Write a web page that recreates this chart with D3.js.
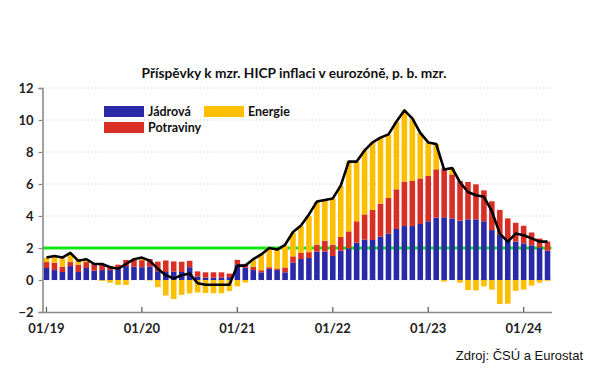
<!DOCTYPE html>
<html>
<head>
<meta charset="utf-8">
<script src="https://cdn.jsdelivr.net/npm/d3@7"></script>
<style>
  html, body { margin: 0; padding: 0; background: #fff; }
  svg { display: block; }
</style>
</head>
<body>
<svg id="chart" width="590" height="369"></svg>
<script>
// ---- DATA ----
const years = ["19", "20", "21", "22", "23", "24"];
const monthLabels = [];
years.forEach(yy => { for (let m = 1; m <= 12; m++) monthLabels.push(String(m).padStart(2, "0") + "/" + yy); });
const categories = monthLabels.slice(0, 64); // 01/19 .. 04/24

const core = [
  0.75,0.62,0.50,0.87,0.50,0.75,0.58,0.62,0.62,0.67,0.87,0.83,
  0.80,0.85,0.55,0.50,0.52,0.50,0.80,0.22,0.15,0.15,0.15,0.18,
  0.97,0.76,0.62,0.48,0.69,0.62,0.48,1.10,1.31,1.38,1.77,1.77,
  1.50,1.83,1.98,2.33,2.52,2.50,2.71,2.90,3.19,3.37,3.37,3.50,
  3.67,3.90,3.92,3.85,3.71,3.79,3.79,3.67,3.12,2.81,2.54,2.40,
  2.29,2.17,2.04,1.83
];
const food = [
  0.37,0.46,0.33,0.25,0.46,0.37,0.42,0.34,0.25,0.29,0.38,0.42,
  0.44,0.46,0.60,0.72,0.64,0.64,0.40,0.32,0.33,0.33,0.33,0.22,
  0.29,0.25,0.21,0.13,0.11,0.10,0.30,0.38,0.38,0.36,0.44,0.69,
  0.71,0.86,1.06,1.34,1.58,1.88,2.06,2.23,2.48,2.78,2.82,2.85,
  2.83,3.02,3.06,2.75,2.48,2.34,2.19,1.93,1.80,1.57,1.31,1.18,
  1.10,0.80,0.55,0.57
];
const energy = [
  0.26,0.35,0.51,0.51,0.37,0.09,0.05,-0.06,-0.17,-0.30,-0.31,0.05,
  0.19,-0.03,-0.45,-0.97,-1.19,-0.93,-0.84,-0.78,-0.82,-0.83,-0.83,-0.69,
  -0.40,-0.16,0.41,0.99,1.24,1.20,1.36,1.46,1.67,2.25,2.69,2.54,
  2.89,3.21,4.36,3.73,4.00,4.22,4.13,3.97,4.23,4.45,3.90,2.85,
  2.10,1.58,-0.10,0.40,-0.17,-0.63,-0.65,-0.40,-0.60,-1.50,-1.48,-0.68,
  -0.60,-0.35,-0.17,-0.05
];
const total = [
  1.4,1.5,1.4,1.7,1.2,1.3,1.0,1.0,0.8,0.7,1.0,1.3,
  1.4,1.2,0.7,0.3,0.1,0.3,0.4,-0.2,-0.3,-0.3,-0.3,-0.3,
  0.9,0.9,1.3,1.6,2.0,1.9,2.2,3.0,3.4,4.1,4.9,5.0,
  5.1,5.9,7.4,7.4,8.1,8.6,8.9,9.1,9.9,10.6,10.1,9.2,
  8.6,8.5,6.9,7.0,6.1,5.5,5.3,5.2,4.3,2.9,2.4,2.9,
  2.8,2.6,2.4,2.4
];
const seriesNames = ["Jádrová", "Potraviny", "Energie"];
const seriesColors = ["#2a2aa8", "#d92e24", "#ffbf00"];
const xTickLabels = ["01/19", "01/20", "01/21", "01/22", "01/23", "01/24"];
const yTicks = [-2, 0, 2, 4, 6, 8, 10, 12];
const targetLevel = 2;
const titleText = "Příspěvky k mzr. HICP inflaci v eurozóně, p. b. mzr.";
const sourceText = "Zdroj: ČSÚ a Eurostat";

// ---- CHART ----
(function () {
const svg = d3.select("#chart");
const plotLeft = 42.5, plotRight = 551.5, plotTop = 88, plotBottom = 312;

const x = d3.scaleBand().domain(categories).range([plotLeft, plotRight]).paddingInner(0.3).paddingOuter(0.15);
const y = d3.scaleLinear().domain([-2, 12]).range([plotBottom, plotTop]);
const cx = d => x(d) + x.bandwidth() / 2;

const rows = categories.map((c, i) => ({ cat: c, core: core[i], food: food[i], energy: energy[i] }));
const stack = d3.stack().keys(["core", "food", "energy"]).offset(d3.stackOffsetDiverging);
const layers = stack(rows);

// gridlines
svg.append("g").selectAll("line").data(yTicks.filter(t => t > -2)).join("line")
  .attr("x1", plotLeft).attr("x2", plotRight)
  .attr("y1", d => y(d)).attr("y2", d => y(d))
  .attr("stroke", "#c4c4c4").attr("stroke-width", 1)
  .attr("stroke-dasharray", "1,2.5");

// target line
svg.append("line")
  .attr("x1", plotLeft).attr("x2", plotRight)
  .attr("y1", y(targetLevel)).attr("y2", y(targetLevel))
  .attr("stroke", "#14e814").attr("stroke-width", 3);

// bars
svg.append("g").selectAll("g").data(layers).join("g")
  .attr("fill", (d, i) => seriesColors[i])
  .selectAll("rect").data(d => d).join("rect")
  .attr("x", d => x(d.data.cat))
  .attr("width", x.bandwidth())
  .attr("y", d => y(Math.max(d[0], d[1])))
  .attr("height", d => Math.abs(y(d[0]) - y(d[1])));

// axes
const yAxis = svg.append("g").attr("transform", `translate(${plotLeft},0)`)
  .call(d3.axisLeft(y).tickValues(yTicks).tickSize(4).tickPadding(5).tickFormat(d3.format("d")));
yAxis.select(".domain").attr("stroke", "#8a8a8a").attr("stroke-width", 1.6);
yAxis.selectAll(".tick line").attr("stroke", "#8a8a8a").attr("stroke-width", 1.2);
yAxis.selectAll(".tick text")
  .attr("font-family", "Lato, 'Open Sans', sans-serif").attr("font-weight", "bold")
  .attr("font-size", 13).attr("fill", "#222");

const xAxis = svg.append("g").attr("transform", `translate(0,${plotBottom})`)
  .call(d3.axisBottom(x).tickValues(categories.filter(c => xTickLabels.includes(c))).tickSize(-5).tickPadding(12).tickSizeOuter(0));
xAxis.select(".domain").attr("stroke", "#8a8a8a").attr("stroke-width", 1.6);
xAxis.selectAll(".tick line").attr("stroke", "#555").attr("stroke-width", 1.2);
xAxis.selectAll(".tick text")
  .attr("font-family", "Lato, 'Open Sans', sans-serif").attr("font-weight", "bold")
  .attr("font-size", 13).attr("fill", "#222");

// total line
svg.append("path").datum(total)
  .attr("fill", "none").attr("stroke", "#000").attr("stroke-width", 2.6)
  .attr("stroke-linejoin", "round")
  .attr("d", d3.line().x((d, i) => cx(categories[i])).y(d => y(d)));

// title
const title = svg.append("text")
  .attr("x", 294).attr("y", 78).attr("text-anchor", "middle")
  .attr("font-family", "Lato, 'Open Sans', sans-serif").attr("font-weight", "bold")
  .attr("font-size", 13.5).attr("fill", "#111").text(titleText);
const tw = title.node().getComputedTextLength();
if (tw > 0) title.attr("font-size", 13.5 * 305 / tw);

// legend
const legendItems = [
  { name: seriesNames[0], color: seriesColors[0], x: 104, y: 106 },
  { name: seriesNames[1], color: seriesColors[1], x: 104, y: 122 },
  { name: seriesNames[2], color: seriesColors[2], x: 204, y: 106 }
];
const lg = svg.append("g").selectAll("g").data(legendItems).join("g")
  .attr("transform", d => `translate(${d.x},${d.y})`);
lg.append("rect").attr("width", 40).attr("height", 11).attr("fill", d => d.color);
lg.append("text").attr("x", 44).attr("y", 10)
  .attr("font-family", "Lato, 'Open Sans', sans-serif").attr("font-weight", "bold")
  .attr("font-size", 12.5).attr("fill", "#111").text(d => d.name);

// source
svg.append("text").attr("x", 583).attr("y", 360).attr("text-anchor", "end")
  .attr("font-family", "'Liberation Sans', Arial, sans-serif")
  .attr("font-size", 13).attr("fill", "#111").text(sourceText);
})();
</script>
</body>
</html>
